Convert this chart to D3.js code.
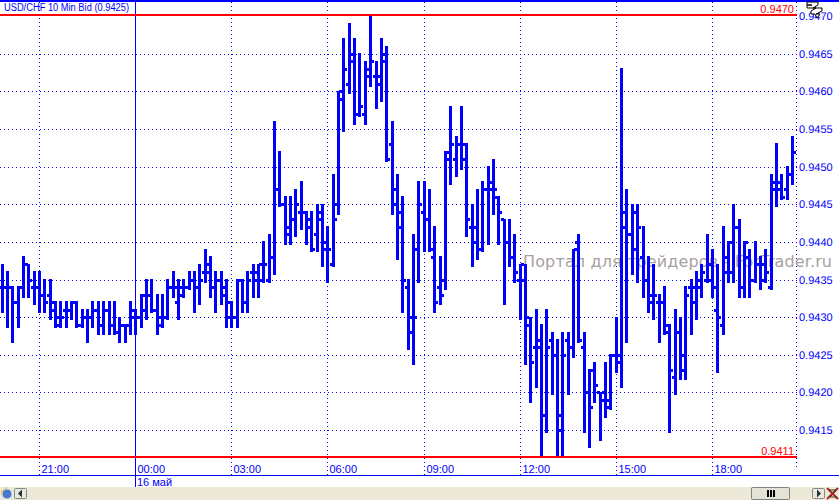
<!DOCTYPE html>
<html lang='en'>
	<head>
		<meta charset='utf-8'>
		<title>USD/CHF 10 Min Bid</title>
		<script src="https://d3js.org/d3.v7.min.js"></script>
		<style type="text/css">
			html, body { margin: 0; padding: 0; background: #fff; overflow: hidden; }
			svg { display: block; }
			text { font-family: "Liberation Sans", Arial, sans-serif; }
		</style>
	</head>
	<body>
		<script type='text/javascript'>
			//Chart data, one entry per 10 minute bar
			var highs = [
				0.9437,0.9436,0.9434,0.9434,0.9438,0.9437,0.9436,0.9436,0.9435,0.9435,
				0.9432,0.9432,0.9432,0.9432,0.9432,0.9431,0.9431,0.9432,0.9432,0.9432,
				0.9432,0.9432,0.9430,0.9429,0.9432,0.9431,0.9433,0.9435,0.9435,0.9433,
				0.9433,0.9435,0.9436,0.9435,0.9435,0.9436,0.9436,0.9437,0.9439,0.9438,
				0.9436,0.9436,0.9435,0.9432,0.9435,0.9435,0.9436,0.9437,0.9437,0.9440,
				0.9441,0.9456,0.9452,0.9446,0.9446,0.9447,0.9448,0.9444,0.9444,0.9445,
				0.9445,0.9442,0.9449,0.9460,0.9467,0.9469,0.9467,0.9465,0.9464,0.9470,
				0.9464,0.9467,0.9466,0.9456,0.9449,0.9446,0.9435,0.9441,0.9448,0.9448,
				0.9447,0.9442,0.9438,0.9452,0.9458,0.9454,0.9458,0.9453,0.9445,0.9447,
				0.9448,0.9450,0.9451,0.9446,0.9443,0.9443,0.9441,0.9437,0.9437,0.9430,
				0.9431,0.9429,0.9431,0.9428,0.9427,0.9428,0.9428,0.9439,0.9441,0.9428,
				0.9423,0.9424,0.9420,0.9424,0.9425,0.9430,0.9463,0.9447,0.9445,0.9445,
				0.9442,0.9438,0.9437,0.9433,0.9434,0.9429,0.9431,0.9430,0.9434,0.9435,
				0.9436,0.9437,0.9441,0.9439,0.9437,0.9442,0.9440,0.9445,0.9443,0.9440,
				0.9439,0.9440,0.9438,0.9439,0.9449,0.9453,0.9449,0.9450,0.9454
			];
			var lows = [
				0.9431,0.9429,0.9427,0.9429,0.9433,0.9433,0.9432,0.9431,0.9431,0.9430,
				0.9429,0.9429,0.9429,0.9430,0.9429,0.9429,0.9427,0.9429,0.9428,0.9428,
				0.9428,0.9428,0.9427,0.9427,0.9428,0.9428,0.9429,0.9430,0.9431,0.9428,
				0.9429,0.9430,0.9433,0.9430,0.9433,0.9434,0.9431,0.9432,0.9435,0.9433,
				0.9431,0.9432,0.9429,0.9429,0.9429,0.9431,0.9431,0.9433,0.9433,0.9435,
				0.9435,0.9436,0.9445,0.9440,0.9440,0.9441,0.9442,0.9440,0.9439,0.9439,
				0.9437,0.9435,0.9437,0.9444,0.9455,0.9460,0.9456,0.9457,0.9456,0.9461,
				0.9458,0.9459,0.9451,0.9444,0.9438,0.9431,0.9426,0.9424,0.9435,0.9439,
				0.9439,0.9431,0.9432,0.9434,0.9448,0.9449,0.9450,0.9441,0.9437,0.9438,
				0.9439,0.9440,0.9444,0.9440,0.9432,0.9437,0.9435,0.9430,0.9424,0.9419,
				0.9421,0.9411,0.9415,0.9420,0.9411,0.9411,0.9420,0.9425,0.9427,0.9415,
				0.9413,0.9419,0.9414,0.9417,0.9418,0.9423,0.9421,0.9427,0.9436,0.9435,
				0.9433,0.9431,0.9430,0.9427,0.9428,0.9415,0.9420,0.9422,0.9422,0.9428,
				0.9430,0.9433,0.9435,0.9433,0.9423,0.9428,0.9435,0.9435,0.9433,0.9433,
				0.9433,0.9435,0.9434,0.9435,0.9434,0.9445,0.9446,0.9446,0.9448
			];
			var opens = [
				0.9434,0.9434,0.9434,0.9432,0.9434,0.9437,0.9434,0.9434,0.9433,0.9433,
				0.9431,0.9429,0.9431,0.9431,0.9432,0.9429,0.9430,0.9430,0.9431,0.9429,
				0.9431,0.9429,0.9428,0.9429,0.9429,0.9430,0.9430,0.9431,0.9433,0.9431,
				0.9430,0.9430,0.9434,0.9432,0.9433,0.9434,0.9435,0.9434,0.9436,0.9436,
				0.9434,0.9435,0.9433,0.9430,0.9430,0.9435,0.9432,0.9436,0.9435,0.9435,
				0.9435,0.9438,0.9447,0.9445,0.9441,0.9443,0.9444,0.9444,0.9442,0.9441,
				0.9443,0.9439,0.9437,0.9445,0.9459,0.9461,0.9465,0.9457,0.9457,0.9462,
				0.9462,0.9462,0.9464,0.9453,0.9447,0.9442,0.9434,0.9430,0.9439,0.9444,
				0.9443,0.9438,0.9434,0.9435,0.9452,0.9451,0.9453,0.9451,0.9442,0.9440,
				0.9439,0.9447,0.9447,0.9446,0.9443,0.9440,0.9438,0.9435,0.9435,0.9429,
				0.9426,0.9426,0.9417,0.9427,0.9425,0.9417,0.9427,0.9426,0.9440,0.9426,
				0.9420,0.9423,0.9420,0.9420,0.9418,0.9425,0.9424,0.9442,0.9441,0.9444,
				0.9438,0.9435,0.9432,0.9432,0.9432,0.9428,0.9422,0.9428,0.9423,0.9434,
				0.9434,0.9435,0.9435,0.9435,0.9431,0.9429,0.9436,0.9436,0.9442,0.9434,
				0.9438,0.9435,0.9437,0.9437,0.9434,0.9448,0.9448,0.9447,0.9449
			];
			var closes = [
				0.9434,0.9434,0.9432,0.9434,0.9437,0.9435,0.9434,0.9433,0.9432,0.9432,
				0.9430,0.9430,0.9431,0.9432,0.9429,0.9430,0.9430,0.9431,0.9429,0.9431,
				0.9429,0.9428,0.9429,0.9429,0.9431,0.9430,0.9433,0.9433,0.9431,0.9429,
				0.9430,0.9434,0.9434,0.9434,0.9434,0.9435,0.9434,0.9435,0.9437,0.9434,
				0.9435,0.9434,0.9432,0.9430,0.9435,0.9432,0.9435,0.9436,0.9437,0.9437,
				0.9438,0.9447,0.9445,0.9442,0.9443,0.9445,0.9444,0.9443,0.9439,0.9444,
				0.9440,0.9439,0.9443,0.9460,0.9463,0.9464,0.9457,0.9458,0.9463,0.9464,
				0.9461,0.9465,0.9451,0.9445,0.9444,0.9435,0.9428,0.9430,0.9445,0.9443,
				0.9439,0.9432,0.9433,0.9451,0.9453,0.9453,0.9453,0.9443,0.9442,0.9439,
				0.9447,0.9448,0.9447,0.9444,0.9440,0.9438,0.9436,0.9437,0.9430,0.9424,
				0.9427,0.9417,0.9426,0.9425,0.9415,0.9425,0.9426,0.9439,0.9427,0.9420,
				0.9418,0.9421,0.9419,0.9419,0.9425,0.9425,0.9444,0.9441,0.9439,0.9442,
				0.9435,0.9433,0.9433,0.9432,0.9429,0.9423,0.9428,0.9425,0.9433,0.9432,
				0.9434,0.9436,0.9437,0.9434,0.9430,0.9438,0.9440,0.9442,0.9434,0.9440,
				0.9435,0.9437,0.9435,0.9436,0.9447,0.9447,0.9446,0.9449,0.9452
			];

			var priceTicks = [0.9470,0.9465,0.9460,0.9455,0.9450,0.9445,0.9440,0.9435,0.9430,0.9425,0.9420,0.9415];
			var hourBars = [7,25,43,61,79,97,115,133];
			var hourLabels = ['21:00','00:00','03:00','06:00','09:00','12:00','15:00','18:00'];
			var dayBar = 25;
			var dayLabel = '16 май';
			var periodHigh = 0.94702;
			var periodLow = 0.94114;

			var w = 839;
			var h = 501;
			var blue = '#0000ff';
			var red = '#ff0000';

			var x = d3.scaleLinear().domain([0, 150]).rangeRound([1.7, 802.7]);
			var y = d3.scaleLinear().domain([0.9415, 0.9465]).range([430, 53.8]);
			var yr = function(v) { return Math.round(y(v)) + 0.5; };
			var xr = function(i) { return x(i) + 0.5; };

			//Create SVG element
			var svg = d3.select('body')
						.append('svg')
						.attr('width', w)
						.attr('height', h)
						.attr('shape-rendering', 'crispEdges');

			svg.append('clipPath').attr('id', 'plot')
				.append('rect')
				.attr('x', 0).attr('y', 0)
				.attr('width', 797).attr('height', Math.round(y(periodLow)));

			//Grid
			svg.append('g').selectAll('line')
				.data(priceTicks.slice(1))
				.enter().append('line')
				.attr('x1', 0).attr('x2', 797)
				.attr('y1', yr).attr('y2', yr)
				.attr('stroke', blue)
				.attr('stroke-dasharray', '1,3');

			svg.append('g').selectAll('line')
				.data(hourBars)
				.enter().append('line')
				.attr('x1', xr).attr('x2', xr)
				.attr('y1', 2).attr('y2', function(d) { return d === dayBar ? 487 : 475; })
				.attr('stroke', blue)
				.attr('stroke-dasharray', function(d) { return d === dayBar ? null : '1,3'; });

			svg.append('line')
				.attr('x1', 796.5).attr('x2', 796.5)
				.attr('y1', 2).attr('y2', 470)
				.attr('stroke', blue)
				.attr('stroke-dasharray', '1,3');

			//Watermark sits under the bars
			svg.append('text')
				.attr('x', 523).attr('y', 267)
				.attr('fill', '#a8a0a0')
				.style('font-family', '"DejaVu Sans"')
				.style('font-size', '16px')
				.attr('textLength', 309)
				.text('Портал для трейдеров - ForTrader.ru');

			//Bars, as rects so they stay exactly 3px wide
			var bars = svg.append('g')
				.attr('clip-path', 'url(#plot)')
				.attr('fill', blue);

			bars.selectAll('rect.hl')
				.data(highs)
				.enter().append('rect')
				.attr('class', 'hl')
				.attr('x', function(d, i) { return x(i) - 1; })
				.attr('width', 3)
				.attr('y', function(d) { return Math.round(y(d) - 0.6); })
				.attr('height', function(d, i) { return Math.round(y(lows[i])) + 3 - Math.round(y(d) - 0.6); });

			bars.selectAll('rect.open')
				.data(opens)
				.enter().append('rect')
				.attr('class', 'open')
				.attr('x', function(d, i) { return x(i) - 3; })
				.attr('width', 3)
				.attr('y', function(d) { return Math.round(y(d)) - 1; })
				.attr('height', 3);

			bars.selectAll('rect.close')
				.data(closes)
				.enter().append('rect')
				.attr('class', 'close')
				.attr('x', function(d, i) { return x(i) + 1; })
				.attr('width', 3)
				.attr('y', function(d) { return Math.round(y(d)) - 1; })
				.attr('height', 3);

			//High and low of the period
			var extremes = [periodHigh, periodLow];
			svg.append('g').selectAll('rect')
				.data(extremes)
				.enter().append('rect')
				.attr('x', 0).attr('width', 797)
				.attr('y', function(d) { return Math.round(y(d)) - 1; })
				.attr('height', 2)
				.attr('fill', red);

			svg.append('g').selectAll('text')
				.data(extremes)
				.enter().append('text')
				.attr('x', 794)
				.attr('y', function(d) { return Math.round(y(d)) - 2; })
				.attr('text-anchor', 'end')
				.attr('fill', red)
				.style('font-size', '11px')
				.text(function(d) { return d.toFixed(5).slice(0, 6); });

			//Frame
			svg.append('rect')
				.attr('x', 0).attr('y', 0)
				.attr('width', w).attr('height', 2)
				.attr('fill', blue);
			svg.append('line')
				.attr('x1', 0).attr('x2', w)
				.attr('y1', 475.5).attr('y2', 475.5)
				.attr('stroke', blue);

			svg.append('text')
				.attr('x', 4).attr('y', 11)
				.attr('fill', blue)
				.style('font-size', '10px')
				.attr('textLength', 125)
				.attr('lengthAdjust', 'spacingAndGlyphs')
				.text('USD/CHF 10 Min Bid (0.9425)');

			//Price axis
			var yAxis = d3.axisRight(y)
				.tickValues(priceTicks)
				.tickSize(0)
				.tickPadding(2)
				.tickFormat(d3.format('.4f'));
			var yG = svg.append('g')
				.attr('transform', 'translate(797,0)')
				.attr('text-rendering', 'geometricPrecision')
				.call(yAxis);
			yG.select('.domain').remove();
			yG.selectAll('text')
				.attr('fill', blue)
				.style('font-family', '"Liberation Sans"')
				.style('font-size', '11px');

			//Time axis
			var xAxis = d3.axisBottom(x)
				.tickValues(hourBars)
				.tickSize(0)
				.tickPadding(0)
				.tickFormat(function(d, i) { return hourLabels[i]; });
			var xG = svg.append('g')
				.attr('transform', 'translate(0,463)')
				.call(xAxis);
			xG.select('.domain').remove();
			xG.selectAll('text')
				.attr('fill', blue)
				.attr('text-anchor', 'start')
				.attr('dx', 2)
				.attr('dy', 0)
				.attr('y', 10)
				.style('font-family', '"Liberation Sans"')
				.style('font-size', '11px');

			svg.append('text')
				.attr('x', x(dayBar) + 2).attr('y', 486)
				.attr('fill', blue)
				.style('font-size', '11px')
				.text(dayLabel);

			//Bottom strip and its buttons
			svg.append('rect')
				.attr('x', 0).attr('y', 487)
				.attr('width', w).attr('height', 13)
				.attr('fill', '#ece9d8');

			var ui = svg.append('g').attr('shape-rendering', 'auto');
			ui.append('path').attr('d', 'M1 491 L7 487 L7 490 L11 490 L7 495 L1 495 Z').attr('fill', '#f0b020');
			ui.append('circle').attr('cx', 7).attr('cy', 494).attr('r', 5).attr('fill', '#4a78c8').attr('stroke', '#d8e4f0');
			ui.append('rect').attr('x', 14.5).attr('y', 488.5).attr('width', 12).attr('height', 10).attr('rx', 1).attr('fill', '#ece9d8').attr('stroke', '#808890');
			ui.append('path').attr('d', 'M18 493.5 L22 489.5 L22 497.5 Z').attr('fill', '#203040');
			ui.append('rect').attr('x', 751.5).attr('y', 487.5).attr('width', 38).attr('height', 12).attr('rx', 1).attr('fill', '#e4e2d6').attr('stroke', '#808080');
			ui.append('rect').attr('x', 767).attr('y', 490).attr('width', 2).attr('height', 7).attr('fill', '#000');
			ui.append('rect').attr('x', 770).attr('y', 490).attr('width', 2).attr('height', 7).attr('fill', '#000');
			ui.append('rect').attr('x', 773).attr('y', 490).attr('width', 2).attr('height', 7).attr('fill', '#000');
			ui.append('rect').attr('x', 812.5).attr('y', 488.5).attr('width', 12).attr('height', 10).attr('rx', 1).attr('fill', '#ece9d8').attr('stroke', '#808890');
			ui.append('path').attr('d', 'M817 489.5 L821 493.5 L817 497.5 Z').attr('fill', '#203040');
			ui.append('path').attr('d', 'M827 488 L838 499 M838 488 L827 499').attr('stroke', '#c02020').attr('stroke-width', 2);
			ui.append('path').attr('d', 'M829 490 L836 490 L830 497 L837 497').attr('fill', 'none').attr('stroke', '#304020');

			//Cursor mark in the top right corner
			svg.append('path')
				.attr('d', 'M807 2 H818 V5 L813 8 H822 V11 L816 14 H820 L817 18 L815 14 H811 V11 L816 8 H807 V5 L812 5 H807 Z')
				.attr('fill', '#fff')
				.attr('stroke', '#000')
				.attr('shape-rendering', 'auto');
		</script>
	</body>
</html>
